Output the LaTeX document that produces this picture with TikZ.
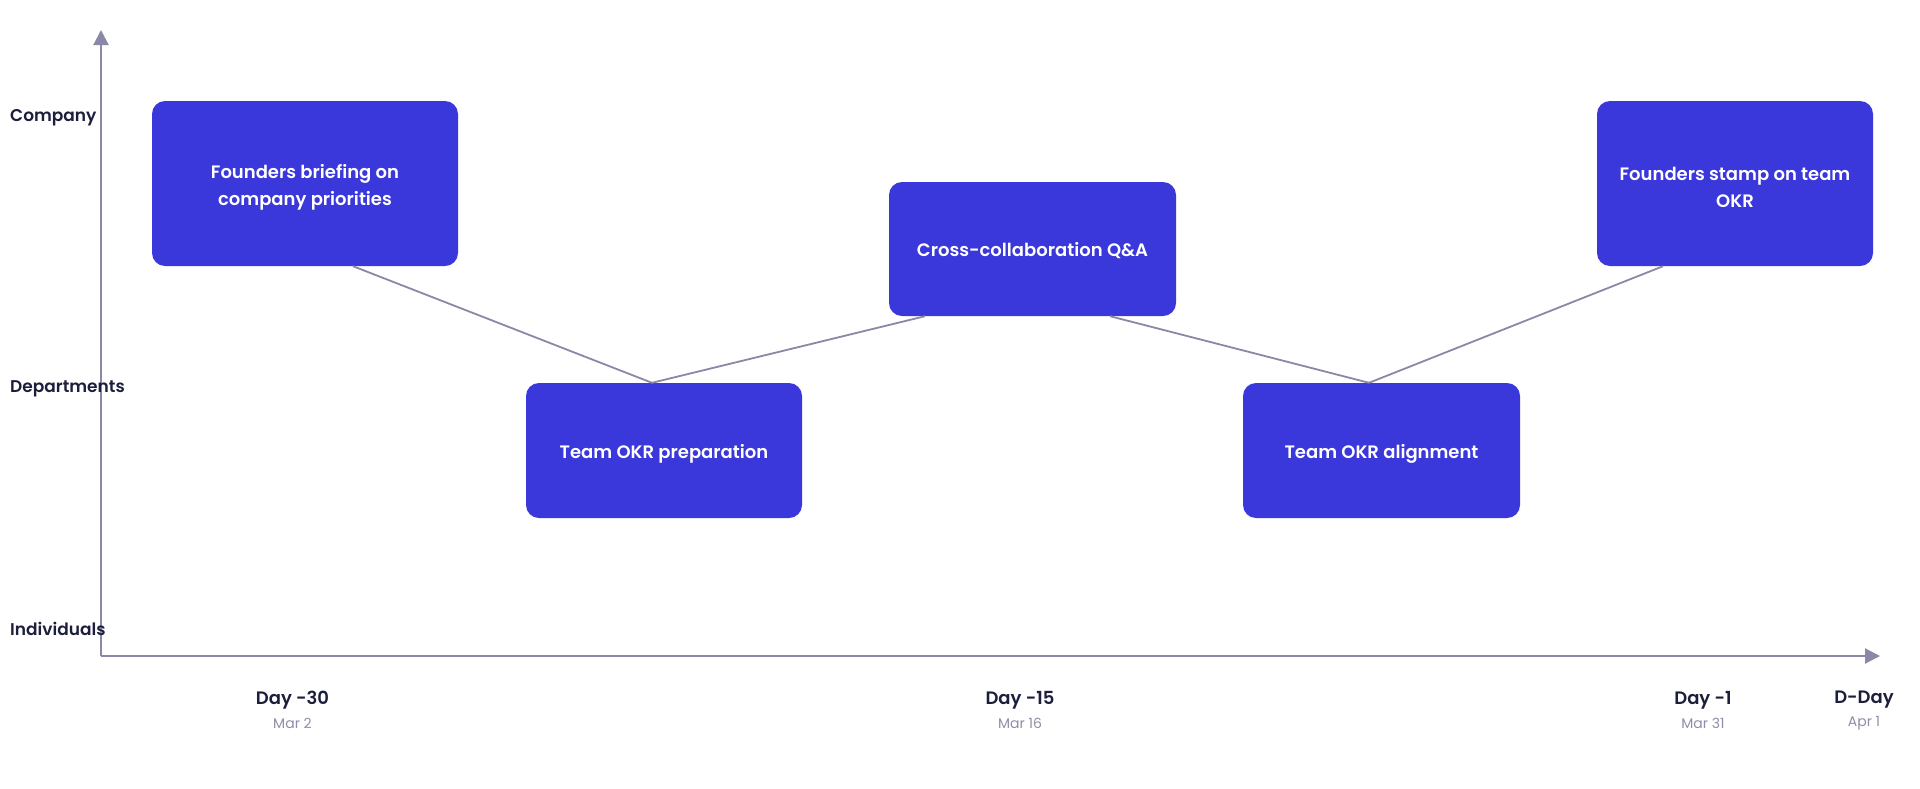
\documentclass[tikz,border=0pt]{standalone}
\usepackage{fontspec}
\setmainfont{Poppins}[BoldFont={Poppins SemiBold}]
\usetikzlibrary{arrows.meta}
\definecolor{boxblue}{HTML}{3A37DB}
\definecolor{axisgray}{HTML}{8A88A6}
\definecolor{navy}{HTML}{1B1F3B}
\definecolor{dategray}{HTML}{8F8EA6}
\tikzset{
  x=1pt, y=-1pt,
  stage/.style={draw=none, fill=boxblue, rounded corners=13pt, inner sep=0pt},
  tall/.style={stage, minimum height=165pt},
  short/.style={stage, minimum height=135pt},
  stagetext/.style={text=white, font=\fontsize{18}{27}\selectfont\bfseries, align=center, inner sep=0pt},
  axis/.style={draw=axisgray, line width=2pt, -{Triangle[width=15pt,length=15pt]}},
  link/.style={draw=axisgray, line width=1.8pt},
  level/.style={text=navy, font=\fontsize{17}{20}\selectfont\bfseries, anchor=west, inner sep=0pt},
  day/.style={text=navy, font=\fontsize{18}{20}\selectfont\bfseries, inner sep=0pt},
  date/.style={text=dategray, font=\fontsize{14}{16}\selectfont, inner sep=0pt}
}
\begin{document}
\begin{tikzpicture}
\useasboundingbox (0,0) rectangle (1920,788);
\fill[white] (0,0) rectangle (1920,788);

\coordinate (origin) at (101,656);
\coordinate (ytip) at (101,30);
\coordinate (xtip) at (1880,656);
\draw[axis] (origin) -- (ytip);
\draw[axis] (origin) -- (xtip);

\node[level] (company) at (10,118) {Company};
\node[level] (departments) at (10,389) {Departments};
\node[level] (individuals) at (10,629) {Individuals};

\node[tall, minimum width=306pt] (b1) at (305,183.5) {};
\node[short, minimum width=276pt] (b2) at (664,450.5) {};
\node[short, minimum width=287pt, minimum height=134pt] (b3) at (1032.5,249) {};
\node[short, minimum width=277pt] (b4) at (1381.5,450.5) {};
\node[tall, minimum width=276pt] (b5) at (1735,183.5) {};

\node[stagetext] (t1) at ([yshift=-4pt]b1.center) {Founders briefing on\\company priorities};
\node[stagetext] (t2) at ([yshift=-3pt]b2.center) {Team OKR preparation};
\node[stagetext] (t3) at ([yshift=-2pt]b3.center) {Cross-collaboration Q\&A};
\node[stagetext] (t4) at ([yshift=-3pt]b4.center) {Team OKR alignment};
\node[stagetext] (t5) at ([yshift=-4pt]b5.center) {Founders stamp on team\\OKR};

\draw[link] ([xshift=48pt]b1.south) -- ([xshift=-12pt]b2.north);
\draw[link] ([xshift=-12pt]b2.north) -- ([xshift=-107.5pt]b3.south);
\draw[link] ([xshift=77.5pt]b3.south) -- ([xshift=-12.5pt]b4.north);
\draw[link] ([xshift=-12.5pt]b4.north) -- ([xshift=-72pt]b5.south);

\node[day] (d30) at (292.5,700) {Day -30};
\node[date] (m2) at (292.5,723) {Mar 2};
\node[day] (d15) at (1020,700) {Day -15};
\node[date] (m16) at (1020,723) {Mar 16};
\node[day] (d1) at (1703,700) {Day -1};
\node[date] (m31) at (1703,723) {Mar 31};
\node[day] (dd) at (1864,700) {D-Day};
\node[date] (a1) at (1864,723) {Apr 1};
\end{tikzpicture}
\end{document}
